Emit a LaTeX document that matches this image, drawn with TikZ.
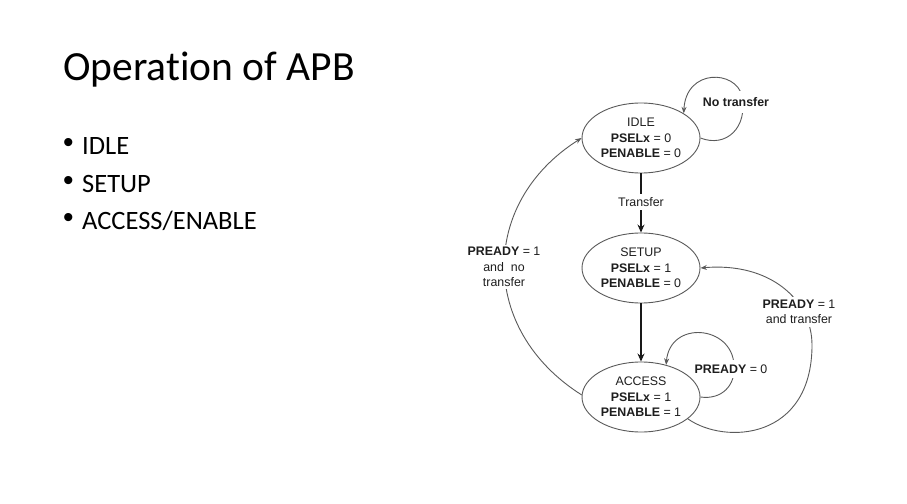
\documentclass[tikz,border=0pt]{standalone}
\usepackage{fontspec}
\setmainfont{Carlito}[Ligatures=NoCommon]
\newfontfamily\diagfont{Liberation Sans}
\usetikzlibrary{shapes.geometric,arrows.meta}

\definecolor{linegray}{RGB}{90,90,90}
\definecolor{txt}{RGB}{30,30,30}
\definecolor{dark}{RGB}{25,25,25}

\begin{document}
\begin{tikzpicture}[x=1pt,y=-1pt,
  state/.style={ellipse, draw=linegray, line width=0.9pt,
    minimum width=118pt, minimum height=70pt, inner sep=0pt,
    align=center, text=txt,
    font=\diagfont\fontsize{12.4}{15.5}\selectfont},
  edge/.style={draw=linegray, line width=0.9pt,
    -{Stealth[length=6.5pt,width=5pt]}},
  mainedge/.style={draw=dark, line width=2pt,
    -{Stealth[length=8pt,width=7pt]}},
  lbl/.style={fill=white, inner xsep=2pt, inner ysep=3pt,
    align=center, text=txt,
    font=\diagfont\fontsize{12.4}{15.5}\selectfont},
  slide/.style={anchor=base west, inner sep=0pt, text=black},
  bullet/.style={slide, font=\diagfont\fontsize{30}{34}\selectfont},
]
% page
\fill[white] (0,0) rectangle (907,503);
\useasboundingbox (0,0) rectangle (907,503);

% slide text
\node[slide, font=\fontsize{41.5}{49}\selectfont] (title) at (63,80) {Operation of APB};
\begin{scope}[font=\fontsize{26.5}{31}\selectfont]
  \node[bullet] (b1) at (63,152.5) {•};
  \node[slide] (t1) at (82,154.5) {IDLE};
  \node[bullet] (b2) at (63,190) {•};
  \node[slide] (t2) at (82,192) {SETUP};
  \node[bullet] (b3) at (63,227.5) {•};
  \node[slide] (t3) at (82,229.5) {ACCESS/ENABLE};
\end{scope}

% states
\node[state] (idle)   at (641,138) {IDLE\\\textbf{PSELx} = 0\\\textbf{PENABLE} = 0};
\node[state] (setup)  at (641,268) {SETUP\\\textbf{PSELx} = 1\\\textbf{PENABLE} = 0};
\node[state] (access) at (641,397) {ACCESS\\\textbf{PSELx} = 1\\\textbf{PENABLE} = 1};

% transitions
\draw[mainedge] (idle) -- (setup);
\node[lbl] (ltransfer) at (641,202) {Transfer};

\draw[mainedge] (setup) -- (access);

\draw[edge] (idle.east) .. controls (726,148) and (748,128) .. (742,96)
  .. controls (736,70) and (686,68) .. (idle.30);
\node[lbl, inner ysep=6pt] (lnotr) at (736,102) {\textbf{No transfer}};

\draw[edge] (access.east) .. controls (722,400) and (736,385) .. (734,365)
  .. controls (732,325) and (670,320) .. (access.52);
\node[lbl, inner ysep=5pt] (lwait) at (731,369) {\textbf{PREADY} = 0};

\draw[edge] (access.-25) .. controls (725,445) and (812,440) .. (812,345)
  .. controls (812,300) and (770,262) .. (setup.east);
\node[lbl] (lnext) at (799,312) {\textbf{PREADY} = 1\\and transfer};

\draw[edge] (access.178) .. controls (479,330) and (479,203) .. (idle.west);
\node[lbl, inner ysep=2pt] (lback) at (504,267) {\textbf{PREADY} = 1\\and~ no\\transfer};
\end{tikzpicture}
\end{document}
